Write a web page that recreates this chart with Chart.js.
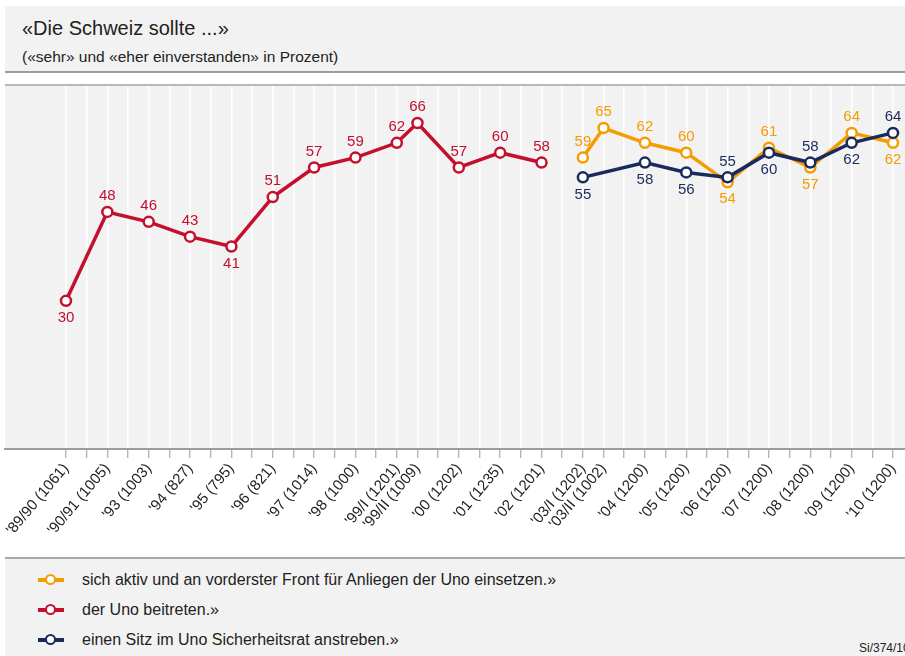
<!DOCTYPE html>
<html>
<head>
<meta charset="utf-8">
<script src="https://cdn.jsdelivr.net/npm/chart.js@4.4.1/dist/chart.umd.min.js"></script>
<style>
  body { margin: 0; background: #fff; width: 905px; height: 656px; overflow: hidden; position: relative;
         font-family: "Liberation Sans", Arial, sans-serif; color: #222; }
  #head { position: absolute; left: 5px; top: 6px; width: 900px; height: 65px; background: #f2f2f2;
          border-bottom: 2px solid #9c9c9c; }
  #head h1 { position: absolute; left: 17px; top: 11px; margin: 0; font-size: 20px; font-weight: normal; }
  #head p { position: absolute; left: 17px; top: 42px; margin: 0; font-size: 15.5px; }
  #plotTop { position: absolute; left: 5px; top: 84px; width: 900px; height: 2px; background: #b8b8b8; }
  #wrap { position: absolute; left: 0; top: 86px; width: 905px; height: 471px; }
  #legend { position: absolute; left: 5px; top: 557px; width: 900px; height: 99px; background: #f2f2f2;
            border-top: 2px solid #a8a8a8; }
  .row { position: absolute; left: 0; height: 20px; font-size: 16px; line-height: 20px; }
  .row .ic { position: absolute; left: 33px; top: 8px; width: 26px; height: 4px; }
  .row .ic i { position: absolute; left: 7px; top: -4px; width: 7px; height: 7px; border-radius: 50%;
               background: #fff; border: 2.5px solid; }
  .row span { position: absolute; left: 77px; white-space: nowrap; }
  #src { position: absolute; left: 859px; top: 641px; font-size: 12px; white-space: nowrap; }
</style>
</head>
<body>
<div id="head">
  <h1>«Die Schweiz sollte ...»</h1>
  <p>(«sehr» und «eher einverstanden» in Prozent)</p>
</div>
<div id="plotTop"></div>
<div id="wrap"><canvas id="chart" width="905" height="471"></canvas></div>
<div id="legend"></div>
<div id="src">Si/374/10</div>

<script>
// survey waves (sample size in brackets) and their slot on the half-year grid
const labels = ["'89/90 (1061)", "'90/91 (1005)", "'93 (1003)", "'94 (827)", "'95 (795)", "'96 (821)",
  "'97 (1014)", "'98 (1000)", "'99/I (1201)", "'99/II (1009)", "'00 (1202)", "'01 (1235)", "'02 (1201)",
  "'03/I (1202)", "'03/II (1002)", "'04 (1200)", "'05 (1200)", "'06 (1200)", "'07 (1200)", "'08 (1200)",
  "'09 (1200)", "'10 (1200)"];
const slots = [0, 2, 4, 6, 8, 10, 12, 14, 16, 17, 19, 21, 23, 25, 26, 28, 30, 32, 34, 36, 38, 40];

const front = [null, null, null, null, null, null, null, null, null, null, null, null, null,
  59, 65, 62, 60, 54, 61, 57, 64, 62];
const uno = [30, 48, 46, 43, 41, 51, 57, 59, 62, 66, 57, 60, 58,
  null, null, null, null, null, null, null, null, null];
const sitz = [null, null, null, null, null, null, null, null, null, null, null, null, null,
  55, null, 58, 56, 55, 60, 58, 62, 64];

const COLORS = { front: '#f59c00', uno: '#c40f2e', sitz: '#1b2a5e' };

const legendItems = [
  { text: 'sich aktiv und an vorderster Front für Anliegen der Uno einsetzen.»', color: COLORS.front },
  { text: 'der Uno beitreten.»', color: COLORS.uno },
  { text: 'einen Sitz im Uno Sicherheitsrat anstreben.»', color: COLORS.sitz }
];

function points(values) {
  return values.map((v, i) => ({ x: slots[i], y: v })).filter(p => p.y !== null);
}

function series(label, values, color, order, below) {
  return {
    label: label,
    data: points(values),
    borderColor: color,
    backgroundColor: '#fff',
    borderWidth: 3.5,
    pointRadius: 5,
    pointBorderWidth: 2.5,
    pointBackgroundColor: '#fff',
    pointBorderColor: color,
    order: order,
    below: below
  };
}

const plotBg = {
  id: 'plotBg',
  beforeDraw(chart) {
    const { ctx, chartArea: a } = chart;
    ctx.save();
    ctx.fillStyle = '#f2f2f2';
    ctx.fillRect(a.left, a.top, a.right - a.left, a.bottom - a.top);
    ctx.restore();
  }
};

const valueLabels = {
  id: 'valueLabels',
  afterDatasetsDraw(chart) {
    const ctx = chart.ctx;
    ctx.save();
    ctx.font = '15px "Liberation Sans", Arial, sans-serif';
    ctx.textAlign = 'center';
    ctx.textBaseline = 'middle';
    chart.data.datasets.forEach((ds, di) => {
      const meta = chart.getDatasetMeta(di);
      ctx.fillStyle = ds.borderColor;
      meta.data.forEach((el, i) => {
        const p = ds.data[i];
        const dy = ds.below.includes(p.x) ? 17 : -16;
        ctx.fillText(String(p.y), el.x, el.y + dy);
      });
    });
    ctx.restore();
  }
};

new Chart(document.getElementById('chart'), {
  type: 'line',
  data: {
    datasets: [
      series('der Uno beitreten.»', uno, COLORS.uno, 2, [0, 8]),
      series('sich aktiv und an vorderster Front für Anliegen der Uno einsetzen.»', front, COLORS.front, 1, [32, 36, 40]),
      series('einen Sitz im Uno Sicherheitsrat anstreben.»', sitz, COLORS.sitz, 0, [25, 28, 30, 34, 38])
    ]
  },
  options: {
    responsive: false,
    animation: false,
    layout: { autoPadding: false, padding: { left: 5, right: 0, top: 0, bottom: 0 } },
    plugins: { legend: { display: false }, tooltip: { enabled: false } },
    scales: {
      x: {
        type: 'linear',
        min: -2.95,
        max: 40.58,
        afterBuildTicks(axis) {
          axis.ticks = Array.from({ length: 41 }, (_, i) => ({ value: i }));
        },
        afterFit(axis) {
          axis.height = 108;
          axis.paddingLeft = 0;
          axis.paddingRight = 0;
        },
        grid: { color: '#ffffff', lineWidth: 1.5, tickColor: '#9c9c9c', tickLength: 9, tickWidth: 1 },
        border: { display: true, color: '#9c9c9c', width: 2 },
        ticks: {
          autoSkip: false,
          minRotation: 50,
          maxRotation: 50,
          padding: 2,
          color: '#222',
          font: { family: '"Liberation Sans", Arial, sans-serif', size: 15 },
          callback(value) {
            const i = slots.indexOf(value);
            return i >= 0 ? labels[i] : '';
          }
        }
      },
      y: { display: false, min: 0, max: 73.5 }
    }
  },
  plugins: [plotBg, valueLabels]
});

const legend = document.getElementById('legend');
legendItems.forEach((item, k) => {
  const row = document.createElement('div');
  row.className = 'row';
  row.style.top = (11 + k * 30) + 'px';
  row.innerHTML = '<div class="ic" style="background:' + item.color + '"><i style="border-color:' + item.color +
    '"></i></div><span>' + item.text + '</span>';
  legend.appendChild(row);
});
</script>
</body>
</html>
